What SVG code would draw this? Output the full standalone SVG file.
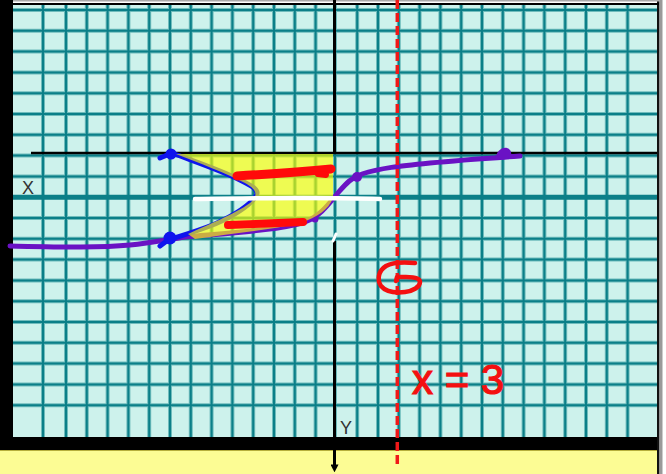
<svg xmlns="http://www.w3.org/2000/svg" width="666" height="474" viewBox="0 0 666 474">
<style>
.halo{fill:none;stroke:#6fbcbc;stroke-width:4}
.core{fill:none;stroke:#0b7f88;stroke-width:2}
.ink{fill:none;stroke-linecap:round;stroke-linejoin:round}
.lbl{font-family:"Liberation Sans",Arial,sans-serif;font-size:18px;fill:#333}
</style>
<defs>
<marker id="arr" viewBox="0 0 10 10" refX="2" refY="5" markerWidth="8" markerHeight="8" markerUnits="userSpaceOnUse" orient="auto">
<path d="M0 0L10 5L0 10Z" fill="#000"/>
</marker>
</defs>
<rect width="666" height="474" fill="#fff"/>
<g id="paper">
<rect x="13" y="5" width="644" height="432" fill="#cdf2ec"/>
<rect x="0" y="450" width="657" height="24" fill="#fcfc94"/>
<path d="M0 450.5H657" stroke="#b6ae3c" stroke-width="1.2"/>
</g>
<g id="grid">
<path class="halo" d="M43 5V437M66 5V437M86.8 5V437M107.6 5V437M128.4 5V437M149.2 5V437M170 5V437M190.8 5V437M211.6 5V437M232.4 5V437M253.2 5V437M274 5V437M294.8 5V437M315.6 5V437M335 5V437M357.2 5V437M378 5V437M398.8 5V437M419.6 5V437M440.4 5V437M461.2 5V437M482 5V437M502.8 5V437M523.6 5V437M544.4 5V437M565.2 5V437M586 5V437M606.8 5V437M627.6 5V437M13 10H657M13 30.8H657M13 51.6H657M13 72.4H657M13 93.2H657M13 114H657M13 134.8H657M13 155.6H657M13 176.4H657M13 218H657M13 238.8H657M13 259.6H657M13 280.4H657M13 301.2H657M13 322H657M13 342.8H657M13 363.6H657M13 384.4H657M13 405.2H657"/>
<path class="core" d="M43 5V437M66 5V437M86.8 5V437M107.6 5V437M128.4 5V437M149.2 5V437M170 5V437M190.8 5V437M211.6 5V437M232.4 5V437M253.2 5V437M274 5V437M294.8 5V437M315.6 5V437M335 5V437M357.2 5V437M378 5V437M398.8 5V437M419.6 5V437M440.4 5V437M461.2 5V437M482 5V437M502.8 5V437M523.6 5V437M544.4 5V437M565.2 5V437M586 5V437M606.8 5V437M627.6 5V437M13 10H657M13 30.8H657M13 51.6H657M13 72.4H657M13 93.2H657M13 114H657M13 134.8H657M13 155.6H657M13 176.4H657M13 218H657M13 238.8H657M13 259.6H657M13 280.4H657M13 301.2H657M13 322H657M13 342.8H657M13 363.6H657M13 384.4H657M13 405.2H657"/>
<path d="M13 197.2H657" stroke="#0b7f88" stroke-width="5"/>
</g>
<g id="frame">
<rect x="0" y="0" width="13" height="450" fill="#000"/>
<rect x="0" y="437" width="659" height="13" fill="#000"/>
<rect x="657" y="0" width="2.5" height="474" fill="#111"/>
<rect x="659.5" y="0" width="3" height="474" fill="#9a9a9a"/>
<path d="M13 0.8H660" stroke="#aaa" stroke-width="1.5"/>
<path d="M13 4H659" stroke="#000" stroke-width="2.2"/>
</g>
<g id="axes">
<path d="M31 153H657" stroke="#000" stroke-width="2.6"/>
<path d="M334.5 0V153" stroke="#000" stroke-width="3"/>
<path d="M334.5 241V466" stroke="#000" stroke-width="3" marker-end="url(#arr)"/>
<text class="lbl" x="22" y="194">X</text>
<text class="lbl" x="340" y="434">Y</text>
</g>
<g id="curves">
<path class="ink" stroke="#6a12c4" stroke-width="5" d="M10 246C60 247 100 248 130 245C150 243 165 240 185 237C230 233 280 230 305 222C320 216 328 205 337 194C345 185 350 178 362 174C380 168 400 166 430 163C460 160 490 158 520 156"/>
<circle cx="357" cy="177" r="5" fill="#6a12c4"/>
<circle cx="315" cy="219" r="3.5" fill="#6a12c4"/>
<path d="M495 160C496 152 501 147 507 148C513 150 512 157 507 159Z" fill="#6a12c4"/>
<path class="ink" stroke="#0f14ee" stroke-width="5" d="M160 158L172 153C190 160 220 170 240 180C252 186 260 190 256 196C250 205 235 215 215 224C195 232 180 236 168 240L160 246"/>
<circle cx="171" cy="154" r="5.5" fill="#0f14ee"/>
<circle cx="170" cy="238" r="6.5" fill="#0f14ee"/>
</g>
<g id="shade">
<path d="M176 154L333 154L333 198C328 210 318 217 300 223C270 230 230 234 195 239L188 234C205 226 235 214 250 203C258 196 258 190 245 183C225 173 200 163 176 154Z" fill="#ffff00" fill-opacity="0.65"/>
</g>
<g id="marks">
<path class="ink" stroke="#ff0a0a" stroke-width="9" d="M237 176C270 174 300 172 331 169"/>
<path class="ink" stroke="#ff0a0a" stroke-width="6" d="M318 174L326 175"/>
<path class="ink" stroke="#ff0a0a" stroke-width="8" d="M228 225L303 222"/>
<path class="ink" stroke="#fff" stroke-width="4.5" d="M195 199C260 198 320 197 380 199"/>
<path class="ink" stroke="#fff" stroke-width="3" d="M336 234L333 241"/>
<path d="M397.3 0V466" stroke="#f01818" stroke-width="3.5" stroke-dasharray="9 4"/>
<path class="ink" stroke="#f41010" stroke-width="4.5" d="M415 263C405 262 393 262 386 266C378 271 377 280 381 286C386 292 396 293 405 292C413 291 420 287 420 282C420 278 414 277 406 277L397 277L396 281"/>
<text x="412" y="394" font-family="Liberation Sans,Arial,sans-serif" font-size="42" fill="#f41010" stroke="#f41010" stroke-width="1.2">x = 3</text>
</g>
</svg>
